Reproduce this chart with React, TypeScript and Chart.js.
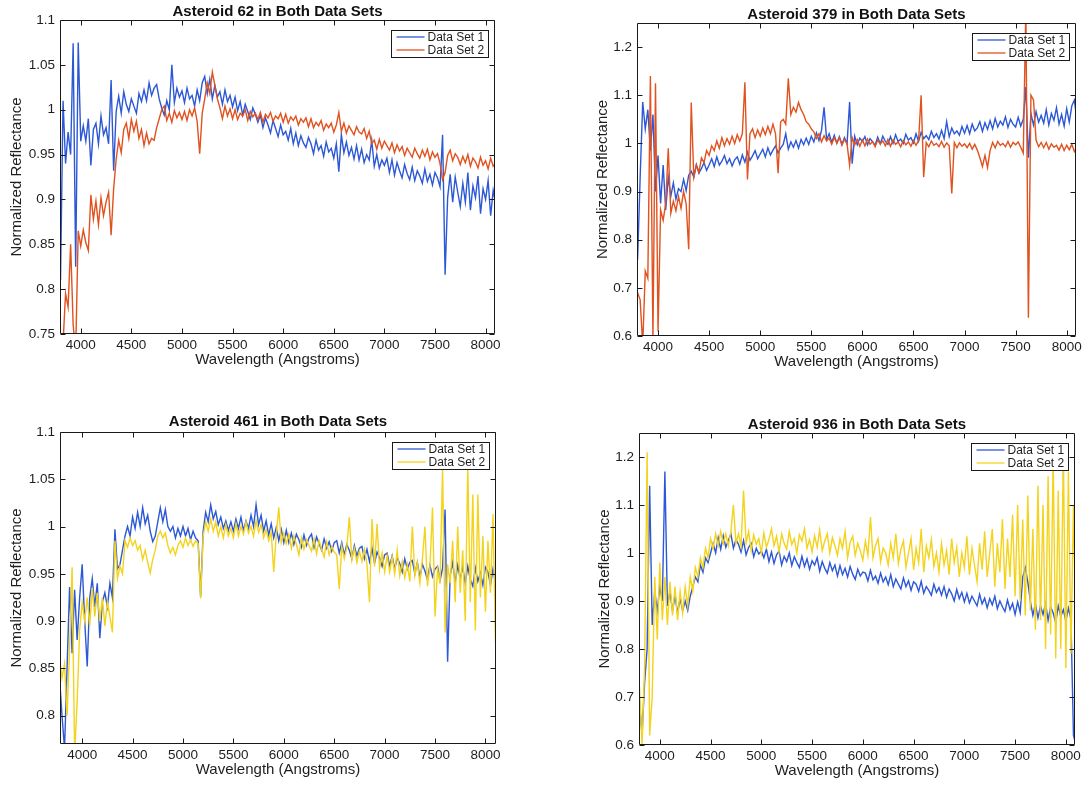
import React, { useEffect, useRef } from "react";
import { Chart, registerables } from "chart.js";

Chart.register(...registerables);

// ---------------- data ----------------
const wavelengths = [
  3775, 3800, 3825, 3850, 3875, 3900, 3925, 3950, 3975, 4000,
  4025, 4050, 4075, 4100, 4125, 4150, 4175, 4200, 4225, 4250,
  4275, 4300, 4325, 4350, 4375, 4400, 4425, 4450, 4475, 4500,
  4525, 4550, 4575, 4600, 4625, 4650, 4675, 4700, 4725, 4750,
  4775, 4800, 4825, 4850, 4875, 4900, 4925, 4950, 4975, 5000,
  5025, 5050, 5075, 5100, 5125, 5150, 5175, 5200, 5225, 5250,
  5275, 5300, 5325, 5350, 5375, 5400, 5425, 5450, 5475, 5500,
  5525, 5550, 5575, 5600, 5625, 5650, 5675, 5700, 5725, 5750,
  5775, 5800, 5825, 5850, 5875, 5900, 5925, 5950, 5975, 6000,
  6025, 6050, 6075, 6100, 6125, 6150, 6175, 6200, 6225, 6250,
  6275, 6300, 6325, 6350, 6375, 6400, 6425, 6450, 6475, 6500,
  6525, 6550, 6575, 6600, 6625, 6650, 6675, 6700, 6725, 6750,
  6775, 6800, 6825, 6850, 6875, 6900, 6925, 6950, 6975, 7000,
  7025, 7050, 7075, 7100, 7125, 7150, 7175, 7200, 7225, 7250,
  7275, 7300, 7325, 7350, 7375, 7400, 7425, 7450, 7475, 7500,
  7525, 7550, 7575, 7600, 7625, 7650, 7675, 7700, 7725, 7750,
  7775, 7800, 7825, 7850, 7875, 7900, 7925, 7950, 7975, 8000,
  8025, 8050, 8075, 8100,
];

const ast62Set1 = [
  0.86, 0.81, 1.01, 0.94, 0.975, 0.95, 1.074, 0.825, 1.075, 0.965,
  0.982, 0.965, 0.99, 0.938, 0.978, 0.985, 0.962, 0.993, 0.972, 0.98,
  0.962, 1.033, 0.932, 0.998, 1.015, 0.996, 1.02, 1.006, 0.998, 1.012,
  1.004, 0.996, 1.018, 1.009, 1.022, 1.01, 1.03, 1.016, 1.024, 1.028,
  1.012, 1.002, 0.994, 1.01, 1.0, 1.05, 1.008, 1.024, 1.014, 1.021,
  1.008, 1.024, 1.012, 1.016, 1.004, 1.022, 1.01, 1.03, 1.037, 1.018,
  1.034, 1.012, 1.027, 1.014, 1.02, 1.006, 1.022, 1.009, 1.016, 1.003,
  1.014, 0.999, 1.009, 0.994, 1.006, 0.998, 0.989, 1.002, 0.995, 0.986,
  0.994, 0.98, 0.991, 0.983, 0.974, 0.988, 0.979, 0.97, 0.983, 0.972,
  0.976, 0.966, 0.979, 0.962, 0.974, 0.96, 0.971, 0.963, 0.958, 0.969,
  0.962, 0.951, 0.966, 0.955, 0.96, 0.948, 0.964, 0.953, 0.957, 0.946,
  0.962, 0.931, 0.972, 0.952, 0.964, 0.949, 0.958, 0.945, 0.96, 0.944,
  0.956, 0.941, 0.95, 0.944, 0.966, 0.937, 0.95, 0.935, 0.944, 0.938,
  0.946, 0.93, 0.944, 0.927, 0.941, 0.932, 0.924, 0.939, 0.929, 0.922,
  0.936, 0.921, 0.932, 0.926, 0.918, 0.934, 0.92, 0.928, 0.916, 0.93,
  0.924, 0.914, 0.972, 0.816, 0.902, 0.928, 0.897, 0.925, 0.908, 0.892,
  0.918, 0.897, 0.93, 0.888, 0.915, 0.902, 0.926, 0.884, 0.912, 0.9,
  0.921, 0.882, 0.91, 0.895,
];

const ast62Set2 = [
  0.745, 0.745, 0.74, 0.795, 0.78, 0.85, 0.76, 0.73, 0.865, 0.848,
  0.866, 0.852, 0.843, 0.905, 0.878, 0.898, 0.872, 0.902, 0.882, 0.897,
  0.908, 0.86, 0.912, 0.945, 0.966, 0.952, 0.978, 0.985, 0.968, 0.989,
  0.976, 0.987, 0.968, 0.978, 0.96, 0.974, 0.962, 0.968, 0.966, 0.98,
  0.99, 1.0, 1.004, 0.988, 0.996, 0.986, 0.999, 0.991, 0.997, 0.989,
  0.998, 0.988, 1.0, 0.993, 1.002, 0.987, 0.951, 0.996, 1.012, 1.03,
  1.018, 1.042, 1.027, 1.012, 1.002, 0.99, 1.004, 0.993, 1.001, 0.99,
  1.0, 0.989, 0.996, 0.993, 1.0, 0.988, 0.998, 0.992, 0.996, 0.989,
  0.997, 0.986, 0.995, 0.991, 0.997, 0.987, 0.993, 0.99, 0.996, 0.986,
  0.995, 0.985, 0.992, 0.988, 0.993, 0.983, 0.99, 0.986, 0.991, 0.981,
  0.99, 0.98, 0.986, 0.982, 0.988, 0.977, 0.984, 0.98, 0.985, 0.975,
  0.983, 0.997, 0.976, 0.985, 0.974, 0.982, 0.977, 0.972, 0.981, 0.975,
  0.973, 0.979, 0.968, 0.976, 0.962, 0.966, 0.956, 0.967, 0.957, 0.965,
  0.96, 0.955, 0.963, 0.952, 0.961, 0.954, 0.959, 0.949, 0.957, 0.952,
  0.947, 0.957, 0.951, 0.946, 0.955, 0.948, 0.956, 0.944, 0.953, 0.947,
  0.951, 0.94, 0.922, 0.93, 0.949, 0.955, 0.943, 0.951, 0.947, 0.939,
  0.948, 0.941, 0.95, 0.937, 0.946, 0.942, 0.935, 0.947, 0.938, 0.943,
  0.934, 0.946, 0.937, 0.941,
];

const ast379Set1 = [
  0.74, 0.76, 0.93, 1.086, 1.03, 1.07, 0.985, 1.06, 0.9, 0.975,
  0.875, 0.955, 0.862, 0.93, 0.89, 0.918, 0.884, 0.906, 0.9, 0.925,
  0.902, 0.934, 0.942, 0.93, 0.956, 0.938, 0.948, 0.96, 0.944, 0.955,
  0.968, 0.952, 0.972, 0.955, 0.963, 0.975, 0.958, 0.968, 0.953, 0.966,
  0.972, 0.957, 0.976, 0.961, 0.982, 0.965, 0.974, 0.985, 0.968, 0.978,
  0.988, 0.972, 0.991, 0.976, 0.986, 0.995, 0.98, 0.99, 0.998, 1.02,
  0.988, 1.003, 0.992, 1.006, 0.99, 1.008, 0.997, 1.011, 0.998, 1.015,
  1.003, 1.022, 1.006, 1.027, 1.075, 1.008, 1.02, 1.002, 1.017, 1.0,
  1.014, 0.998, 1.012, 0.999, 1.086, 0.958, 1.015, 0.997, 1.011, 1.004,
  1.014, 0.997, 1.01, 1.003, 0.996, 1.013, 0.999, 1.015, 1.004, 0.998,
  1.014, 1.0, 1.018, 1.004, 1.009, 1.0, 1.019, 1.007, 1.012, 1.001,
  1.02, 1.004, 1.023, 1.01, 1.016, 1.008, 1.025, 1.012, 1.02, 1.009,
  1.027, 1.01, 1.045, 1.014, 1.032, 1.02, 1.026, 1.017, 1.035, 1.021,
  1.037, 1.02, 1.04, 1.026, 1.032, 1.045, 1.025, 1.043, 1.029, 1.047,
  1.03, 1.052, 1.034, 1.046, 1.038, 1.055, 1.033, 1.05, 1.04, 1.034,
  1.054, 1.036, 1.05, 1.117, 0.97, 1.062, 1.038, 1.066, 1.044, 1.058,
  1.042, 1.07, 1.038, 1.062, 1.048, 1.074, 1.04, 1.06, 1.036, 1.072,
  1.044, 1.078, 1.09, 1.05,
];

const ast379Set2 = [
  0.7, 0.69, 0.675, 0.58, 0.735, 0.72, 1.14, 0.595, 1.125, 0.61,
  0.862, 0.84, 0.875, 0.99, 0.855, 0.88, 0.86, 0.89, 0.865, 0.9,
  0.875, 0.78, 1.085, 0.93, 0.955, 0.94, 0.97, 0.96, 0.985, 0.975,
  0.995, 0.985, 1.005, 0.99, 1.012, 0.995, 1.01, 0.998, 1.015, 1.0,
  1.018, 1.005, 1.02, 1.127, 0.925, 1.02, 1.03, 1.012, 1.028, 1.015,
  1.032, 1.018, 1.035, 1.02, 1.04, 1.02, 0.938, 1.045, 1.05, 1.04,
  1.135, 1.06, 1.075, 1.065, 1.085, 1.07, 1.06, 1.045, 1.04, 1.03,
  1.024, 1.01, 1.02, 1.003, 1.016, 1.005, 1.011, 0.998, 1.012, 1.001,
  1.012, 0.996, 1.009, 0.999, 0.955, 1.012, 0.997, 1.008, 0.994, 1.007,
  0.995, 1.009, 0.998, 1.004, 0.993, 1.007, 0.999, 1.005, 0.995, 1.008,
  0.994, 1.007, 0.998, 1.003, 0.993, 1.006, 0.997, 1.003, 0.994, 1.006,
  0.996, 1.006, 1.1, 0.93, 1.002, 0.993, 1.005, 0.996, 1.0, 0.993,
  1.004, 0.992, 1.001, 0.995, 0.896, 1.002, 0.991, 1.001, 0.994, 0.999,
  0.991, 1.0, 0.988, 0.998, 0.986, 0.97, 0.952, 0.975, 0.95, 0.985,
  1.002, 0.991, 1.004, 0.996, 1.0, 0.993, 1.004, 0.992, 1.002, 0.997,
  1.003, 0.992, 0.98, 1.28, 0.638, 1.1, 1.09, 1.007, 0.993, 1.002,
  0.991, 1.002, 0.988, 0.999, 0.992, 0.996, 0.986, 0.998, 0.985, 0.996,
  0.987, 0.998, 0.983, 0.993,
];

const ast461Set1 = [
  0.84, 0.8, 0.765, 0.85, 0.936, 0.866, 0.933, 0.88, 0.925, 0.96,
  0.9, 0.852, 0.925, 0.945, 0.915, 0.94, 0.882, 0.92, 0.93, 0.915,
  0.94, 0.925, 0.997, 0.955, 0.96, 0.975, 0.99, 1.0, 0.99, 1.01,
  0.998, 1.015, 1.0, 1.02, 1.003, 1.012, 0.995, 0.984, 0.99, 1.005,
  1.02, 1.005, 1.018, 1.0, 0.995, 1.0, 0.988, 0.998, 0.99, 1.0,
  0.99, 0.998, 0.986, 0.995, 0.988, 0.985, 0.926, 0.995, 1.015, 1.005,
  1.023, 1.008, 1.016, 1.002, 1.01, 0.998, 1.006, 0.996, 1.005, 0.995,
  1.008, 0.998, 1.01, 0.996, 1.006, 0.998, 1.012, 1.0, 1.023, 1.002,
  1.012, 0.995, 1.006, 0.991, 1.003, 0.988, 0.999, 0.985, 0.997, 0.983,
  0.996, 0.983, 0.993, 0.981, 0.992, 0.986, 0.978, 0.991, 0.98, 0.988,
  0.992, 0.978, 0.989, 0.982, 0.975, 0.987, 0.977, 0.984, 0.974, 0.983,
  0.985, 0.972, 0.983, 0.97, 0.981, 0.975, 0.966, 0.98, 0.969, 0.977,
  0.979, 0.966, 0.976, 0.963, 0.977, 0.961, 0.973, 0.967, 0.958, 0.97,
  0.972, 0.958, 0.969, 0.955, 0.967, 0.961, 0.952, 0.966, 0.955, 0.962,
  0.964, 0.95, 0.962, 0.946, 0.96, 0.953, 0.944, 0.959, 0.947, 0.955,
  0.958, 0.943, 0.956, 1.018, 0.857, 0.948, 0.962, 0.941, 0.959, 0.945,
  0.957, 0.94, 0.958, 0.944, 0.937, 0.956, 0.942, 0.951, 0.938, 0.957,
  0.952, 0.938, 0.955, 0.941,
];

const ast461Set2 = [
  0.86, 0.84, 0.855, 0.8, 0.87, 0.957, 0.76, 0.814, 0.89, 0.92,
  0.9, 0.925, 0.895, 0.935, 0.905, 0.93, 0.9, 0.925, 0.895, 0.92,
  0.905, 0.888, 0.985, 0.945, 0.958, 0.95, 0.985, 0.978, 0.988, 0.98,
  0.985, 0.975, 0.98, 0.965, 0.975, 0.962, 0.951, 0.965, 0.975, 0.99,
  0.995, 0.988, 0.993, 0.98, 0.972, 0.978, 0.97, 0.98, 0.985, 0.978,
  0.988, 0.98, 0.986, 0.979, 0.985, 0.982, 0.924, 0.99, 1.005, 0.995,
  1.008, 0.995, 1.005, 0.99, 1.0, 0.988, 1.002, 0.99, 0.998, 0.988,
  1.003, 0.99, 1.0, 0.992, 1.005, 0.993, 1.0, 0.99, 1.006, 0.994,
  1.002, 0.988, 0.997, 0.985, 0.994, 0.952, 0.991, 1.02, 0.983, 0.993,
  0.982, 0.992, 0.977, 0.99, 0.981, 0.97, 0.988, 0.976, 0.986, 0.98,
  0.974, 0.987, 0.971, 0.985, 0.976, 0.968, 0.984, 0.97, 0.979, 0.973,
  0.97, 0.934, 0.979, 0.966, 0.978, 1.01, 0.965, 0.977, 0.962, 0.974,
  0.963, 0.976, 0.96, 0.92, 1.008, 0.958, 1.003, 0.955, 0.972, 0.952,
  0.969, 0.952, 0.968, 0.95, 0.975, 0.948, 0.963, 0.946, 0.96, 0.942,
  1.0, 0.948, 0.962, 0.94, 0.966, 1.0, 0.937, 0.958, 1.02, 0.905,
  0.955, 0.94, 1.062, 0.888, 0.96, 0.94, 0.985, 0.92, 1.0, 0.93,
  0.975, 0.9, 1.063, 0.92, 1.034, 0.89, 1.034, 0.925, 0.99, 0.91,
  0.985, 0.93, 1.013, 0.877,
];

const ast936Set1 = [
  0.7, 0.69, 0.62, 0.73, 0.8, 1.14, 0.85, 0.92, 0.88, 0.93,
  0.9, 1.17, 0.89, 0.92, 0.88, 0.91, 0.875, 0.905, 0.88, 0.9,
  0.88, 0.91, 0.93, 0.95, 0.94, 0.975, 0.96, 0.99, 0.98, 1.0,
  1.02, 1.0, 1.032, 1.008, 1.036, 1.012, 1.026, 1.04, 1.01, 1.028,
  1.018, 1.002, 1.026, 0.996, 1.012, 1.02, 0.992, 1.01, 0.998, 1.004,
  0.99, 1.008, 0.982, 1.002, 0.978, 0.996, 1.004, 0.975, 0.993, 0.982,
  1.0, 0.974, 0.992, 0.98, 0.97, 0.993, 0.972, 0.988, 0.966, 0.984,
  0.975, 0.99, 0.962, 0.982, 0.968, 0.958, 0.98, 0.963, 0.975, 0.952,
  0.974, 0.955, 0.968, 0.95, 0.972, 0.956, 0.945, 0.966, 0.952, 0.96,
  0.958, 0.942, 0.964, 0.944, 0.952, 0.937, 0.958, 0.94, 0.95, 0.934,
  0.955, 0.93, 0.946, 0.935, 0.925, 0.948, 0.93, 0.942, 0.922, 0.94,
  0.935, 0.92, 0.941, 0.916, 0.93, 0.922, 0.912, 0.935, 0.918, 0.928,
  0.912, 0.93, 0.908, 0.925, 0.915, 0.9, 0.924, 0.905, 0.918, 0.898,
  0.916, 0.896, 0.91, 0.9, 0.89, 0.914, 0.894, 0.906, 0.886, 0.905,
  0.892, 0.91, 0.884, 0.9, 0.888, 0.878, 0.902, 0.882, 0.895, 0.872,
  0.898, 0.876, 0.95, 0.97, 0.94, 0.9, 0.87, 0.895, 0.865, 0.89,
  0.872, 0.895, 0.86, 0.888, 0.875, 0.855, 0.89, 0.868, 0.882, 0.858,
  0.885, 0.862, 0.62, 0.6,
];

const ast936Set2 = [
  0.75, 0.72, 0.6, 0.76, 1.21, 0.62, 0.7, 0.95, 0.82, 0.98,
  0.86, 0.95, 0.85, 0.94, 0.87, 0.93, 0.86, 0.92, 0.875, 0.93,
  0.89, 0.95, 0.92, 0.97, 0.95, 0.99, 0.97, 1.01, 0.99, 1.03,
  1.01, 1.04, 1.015, 1.045, 1.02, 1.04, 1.015, 1.045, 1.1, 1.02,
  1.04, 1.015, 1.13, 1.02, 1.045, 1.005, 1.038, 1.018, 1.03, 1.0,
  1.042, 1.012, 1.028, 1.05, 1.015, 1.035, 1.002, 1.04, 1.02, 1.008,
  1.045, 1.018, 1.03, 1.0, 1.038, 1.025, 1.05, 1.01, 1.028, 1.002,
  1.036, 1.012, 1.048, 1.005, 1.025, 1.04, 1.0, 1.032, 1.015, 0.995,
  1.03, 1.01, 1.045, 0.99, 1.022, 1.035, 0.995, 1.02, 1.005, 0.985,
  1.025, 0.995, 1.075, 0.99, 1.015, 1.03, 0.982, 1.01, 1.0, 0.975,
  1.02, 0.99, 1.04, 0.978, 1.008, 1.025, 0.97, 1.0, 1.03, 0.965,
  1.01, 0.98, 1.05, 0.96, 1.015, 0.99, 1.028, 0.972, 1.0, 0.96,
  1.02, 0.975, 1.005, 0.955, 1.03, 0.98, 1.012, 0.95, 1.0, 0.97,
  1.035, 0.955, 1.01, 0.975, 0.94, 1.02, 0.965, 1.045, 0.95, 1.0,
  1.05, 0.93, 1.02, 0.96, 1.07, 0.925, 1.03, 0.95, 1.08, 0.91,
  1.1, 0.9, 1.07, 0.87, 1.12, 0.88, 1.05, 0.84, 1.14, 0.86,
  1.1, 0.8, 1.16, 0.83, 1.2, 0.78, 1.13, 0.8, 1.22, 0.76,
  1.17, 0.79, 1.1, 0.82,
];

const xTicks = [4000, 4500, 5000, 5500, 6000, 6500, 7000, 7500, 8000];
const yTicks62 = [0.75, 0.8, 0.85, 0.9, 0.95, 1, 1.05, 1.1];
const yTicks379 = [0.6, 0.7, 0.8, 0.9, 1, 1.1, 1.2];
const yTicks461 = [0.8, 0.85, 0.9, 0.95, 1, 1.05, 1.1];
const yTicks936 = [0.6, 0.7, 0.8, 0.9, 1, 1.1, 1.2];

const seriesLabels = ["Data Set 1", "Data Set 2"];

// ---------------- styles ----------------
const FONT = "'Liberation Sans', Arial, Helvetica, sans-serif";
const BLUE = "#2c58d6";
const RED = "#e0521f";
const YELLOW = "#f4d31c";
const TEXT = "#1e1e1e";

type PanelCfg = {
  title: string;
  set1: number[];
  set2: number[];
  color2: string;
  yTicks: number[];
  xMin: number;
  xMax: number;
  yMin: number;
  yMax: number;
  box: [number, number, number, number]; // left, top, right, bottom of plot area
  yTitleOff: number;
  titleAbove: number;
};

const panels: PanelCfg[] = [
  {
    title: "Asteroid 62 in Both Data Sets",
    set1: ast62Set1, set2: ast62Set2, color2: RED, yTicks: yTicks62,
    xMin: 3795, xMax: 8093, yMin: 0.75, yMax: 1.1,
    box: [60, 20, 495, 334], yTitleOff: 43, titleAbove: 10,
  },
  {
    title: "Asteroid 379 in Both Data Sets",
    set1: ast379Set1, set2: ast379Set2, color2: RED, yTicks: yTicks379,
    xMin: 3794, xMax: 8091, yMin: 0.6, yMax: 1.25,
    box: [637, 23, 1076, 336], yTitleOff: 34, titleAbove: 10,
  },
  {
    title: "Asteroid 461 in Both Data Sets",
    set1: ast461Set1, set2: ast461Set2, color2: YELLOW, yTicks: yTicks461,
    xMin: 3780, xMax: 8105, yMin: 0.77, yMax: 1.1,
    box: [60, 432, 496, 744], yTitleOff: 43, titleAbove: 12,
  },
  {
    title: "Asteroid 936 in Both Data Sets",
    set1: ast936Set1, set2: ast936Set2, color2: YELLOW, yTicks: yTicks936,
    xMin: 3795, xMax: 8090, yMin: 0.6, yMax: 1.25,
    box: [639, 433, 1075, 745], yTitleOff: 34, titleAbove: 10,
  },
];

// ---------------- plugins ----------------
const framePlugin = {
  id: "matlabFrame",
  afterDatasetsDraw(chart: any) {
    const { ctx, chartArea: a, scales } = chart;
    const x = scales.x;
    const y = scales.y;
    const L = Math.round(a.left) + 0.5;
    const R = Math.round(a.right) - 0.5;
    const T = Math.round(a.top) + 0.5;
    const B = Math.round(a.bottom) - 0.5;
    ctx.save();
    ctx.strokeStyle = "#1a1a1a";
    ctx.lineWidth = 1;
    ctx.beginPath();
    ctx.rect(L, T, R - L, B - T);
    const tl = 5;
    for (const t of x.ticks) {
      const px = Math.round(x.getPixelForValue(t.value)) + 0.5;
      ctx.moveTo(px, B);
      ctx.lineTo(px, B - tl);
      ctx.moveTo(px, T);
      ctx.lineTo(px, T + tl);
    }
    for (const t of y.ticks) {
      const py = Math.round(y.getPixelForValue(t.value)) + 0.5;
      ctx.moveTo(L, py);
      ctx.lineTo(L + tl, py);
      ctx.moveTo(R, py);
      ctx.lineTo(R - tl, py);
    }
    ctx.stroke();
    ctx.restore();
  },
};

const boxLegendPlugin = {
  id: "boxLegend",
  afterDraw(chart: any) {
    const { ctx, chartArea: a } = chart;
    const ds = chart.data.datasets;
    ctx.save();
    ctx.font = `12px ${FONT}`;
    const textW = Math.max(...ds.map((d: any) => ctx.measureText(d.label).width));
    const padL = 5, lineLen = 28, gap = 3, padR = 4, rowH = 13;
    const w = Math.round(padL + lineLen + gap + textW + padR);
    const h = 27;
    const x0 = Math.round(a.right - 7 - w) + 0.5;
    const y0 = Math.round(a.top + 10) + 0.5;
    ctx.fillStyle = "#ffffff";
    ctx.fillRect(x0, y0, w, h);
    ctx.strokeStyle = "#1a1a1a";
    ctx.lineWidth = 1;
    ctx.strokeRect(x0, y0, w, h);
    ds.forEach((d: any, i: number) => {
      const yy = y0 + 6.5 + rowH * i;
      ctx.strokeStyle = d.borderColor;
      ctx.lineWidth = 1.3;
      ctx.beginPath();
      ctx.moveTo(x0 + padL, yy);
      ctx.lineTo(x0 + padL + lineLen, yy);
      ctx.stroke();
      ctx.fillStyle = TEXT;
      ctx.textBaseline = "middle";
      ctx.textAlign = "left";
      ctx.fillText(d.label, x0 + padL + lineLen + gap, yy + 0.5);
    });
    ctx.restore();
  },
};

// ---------------- components ----------------
function SpectrumPanel({ cfg }: { cfg: PanelCfg }) {
  const ref = useRef<HTMLCanvasElement | null>(null);
  const [L, T, R, B] = cfg.box;
  const w = R - L + 60 + 12;
  const h = B - T + 22 + 40;

  useEffect(() => {
    if (!ref.current) return;
    const tickFont = { family: FONT, size: 13.5 };
    const chart = new Chart(ref.current, {
      type: "line",
      data: {
        datasets: [
          {
            label: seriesLabels[0],
            data: wavelengths.map((x, i) => ({ x, y: cfg.set1[i] })),
            borderColor: BLUE,
            borderWidth: 1.4,
            pointRadius: 0,
            tension: 0,
            fill: false,
            order: 1,
          },
          {
            label: seriesLabels[1],
            data: wavelengths.map((x, i) => ({ x, y: cfg.set2[i] })),
            borderColor: cfg.color2,
            borderWidth: 1.4,
            pointRadius: 0,
            tension: 0,
            fill: false,
            order: 0,
          },
        ],
      },
      options: {
        animation: false,
        responsive: false,
        maintainAspectRatio: false,
        devicePixelRatio: 1,
        events: [],
        layout: { padding: { left: 0, right: 12, top: 0, bottom: 0 } },
        plugins: {
          legend: { display: false },
          tooltip: { enabled: false },
          title: {
            display: true,
            text: cfg.title,
            fullSize: false,
            color: "#111",
            font: { family: FONT, size: 15, weight: "bold", lineHeight: 1.0 },
            padding: { top: 16 - cfg.titleAbove, bottom: cfg.titleAbove - 9 },
          },
        },
        scales: {
          x: {
            type: "linear",
            min: cfg.xMin,
            max: cfg.xMax,
            afterBuildTicks: (s: any) => {
              s.ticks = xTicks.map((v) => ({ value: v }));
            },
            afterFit: (s: any) => {
              s.height = 40;
            },
            grid: { display: false, drawTicks: false },
            border: { display: false },
            ticks: {
              callback: (v: any) => String(v),
              font: tickFont,
              color: TEXT,
              padding: 3.5,
              maxRotation: 0,
              minRotation: 0,
              autoSkip: false,
            },
            title: {
              display: true,
              text: "Wavelength (Angstroms)",
              color: TEXT,
              font: { family: FONT, size: 15, lineHeight: 1.2 },
              padding: { top: 0, bottom: 5 },
            },
          },
          y: {
            type: "linear",
            min: cfg.yMin,
            max: cfg.yMax,
            afterBuildTicks: (s: any) => {
              s.ticks = cfg.yTicks.map((v) => ({ value: v }));
            },
            afterFit: (s: any) => {
              s.width = 60;
            },
            grid: { display: false, drawTicks: false },
            border: { display: false },
            ticks: {
              callback: (v: any) => String(v),
              font: tickFont,
              color: TEXT,
              padding: 5,
              autoSkip: false,
            },
            title: {
              display: true,
              text: "Normalized Reflectance",
              color: TEXT,
              font: { family: FONT, size: 15, lineHeight: 1.2 },
              padding: { top: 51 - cfg.yTitleOff, bottom: 0 },
            },
          },
        },
      } as any,
      plugins: [framePlugin, boxLegendPlugin],
    });
    return () => chart.destroy();
  }, [cfg]);

  return (
    <canvas
      ref={ref}
      width={w}
      height={h}
      style={{
        position: "absolute",
        left: L - 60,
        top: T - 22,
        width: w,
        height: h,
        display: "block",
      }}
    />
  );
}

export default function App() {
  return (
    <div
      style={{
        position: "absolute",
        left: 0,
        top: 0,
        width: 1083,
        height: 786,
        overflow: "hidden",
        background: "#ffffff",
      }}
    >
      {panels.map((p) => (
        <SpectrumPanel key={p.title} cfg={p} />
      ))}
    </div>
  );
}
